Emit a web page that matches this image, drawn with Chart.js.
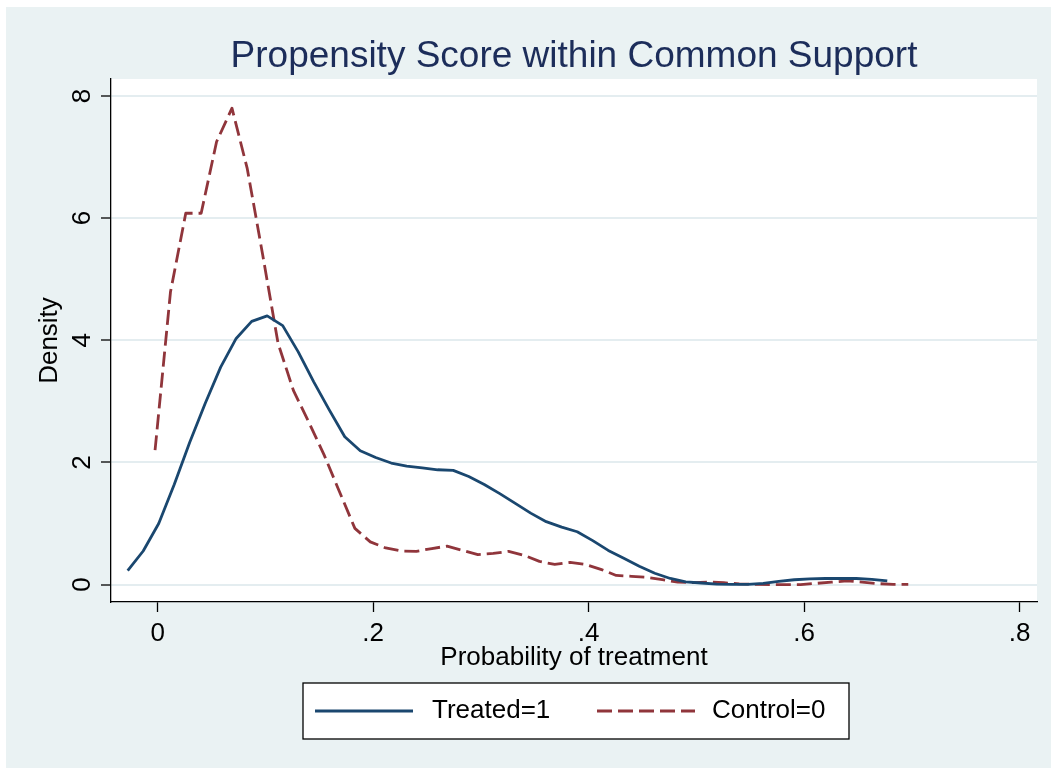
<!DOCTYPE html>
<html>
<head>
<meta charset="utf-8">
<title>Propensity Score within Common Support</title>
<script src="https://cdn.jsdelivr.net/npm/chart.js@4.4.1/dist/chart.umd.min.js"></script>
<style>
  html, body { margin: 0; padding: 0; background: #fff; }
  #wrap { width: 1051px; height: 768px; }
</style>
</head>
<body>
<div id="wrap"><canvas id="chart" width="1051" height="768"></canvas></div>
<script>
const FONT = "'Liberation Sans', Arial, sans-serif";
const NAVY = "#1a476f";
const MAROON = "#90353b";
const BG = "#eaf2f3";

// kernel density estimates, 50 points each
const treatedX = [
  -0.0279, -0.0135, 0.0009, 0.0153, 0.0297, 0.0441, 0.0584, 0.0728, 0.0872, 0.1016,
  0.1160, 0.1304, 0.1448, 0.1592, 0.1736, 0.1880, 0.2023, 0.2167, 0.2311, 0.2455,
  0.2599, 0.2743, 0.2887, 0.3031, 0.3175, 0.3319, 0.3462, 0.3606, 0.3750, 0.3894,
  0.4038, 0.4182, 0.4326, 0.4470, 0.4614, 0.4758, 0.4901, 0.5045, 0.5189, 0.5333,
  0.5477, 0.5621, 0.5765, 0.5909, 0.6053, 0.6197, 0.6340, 0.6484, 0.6628, 0.6772
];
const treatedY = [
  0.23, 0.55, 1.00, 1.64, 2.33, 2.97, 3.56, 4.03, 4.31, 4.40,
  4.24, 3.81, 3.32, 2.86, 2.42, 2.19, 2.08, 1.99, 1.94, 1.91,
  1.88, 1.87, 1.77, 1.64, 1.49, 1.33, 1.17, 1.03, 0.94, 0.865,
  0.72, 0.56, 0.43, 0.30, 0.185, 0.10, 0.046, 0.026, 0.008, 0.005,
  0.005, 0.02, 0.054, 0.079, 0.093, 0.10, 0.10, 0.10, 0.087, 0.06
];
const controlX = [
  -0.0025, 0.0118, 0.0260, 0.0403, 0.0546, 0.0689, 0.0831, 0.0974, 0.1117, 0.1259,
  0.1402, 0.1545, 0.1687, 0.1830, 0.1973, 0.2116, 0.2258, 0.2401, 0.2544, 0.2686,
  0.2829, 0.2972, 0.3114, 0.3257, 0.3400, 0.3543, 0.3685, 0.3828, 0.3971, 0.4113,
  0.4256, 0.4399, 0.4541, 0.4684, 0.4827, 0.4970, 0.5112, 0.5255, 0.5398, 0.5540,
  0.5683, 0.5826, 0.5968, 0.6111, 0.6254, 0.6397, 0.6539, 0.6682, 0.6825, 0.6967
];
const controlY = [
  2.20, 4.79, 6.08, 6.08, 7.25, 7.80, 6.81, 5.40, 3.95, 3.18,
  2.66, 2.12, 1.52, 0.92, 0.70, 0.60, 0.55, 0.545, 0.59, 0.63,
  0.56, 0.49, 0.51, 0.545, 0.48, 0.38, 0.33, 0.365, 0.33, 0.25,
  0.15, 0.135, 0.12, 0.08, 0.04, 0.033, 0.043, 0.03, 0.013, 0.005,
  0.0, 0.0, 0.0, 0.02, 0.04, 0.06, 0.04, 0.016, 0.005, 0.005
];

const xTickValues = [0, 0.2, 0.4, 0.6, 0.8];
const xTickLabels = ["0", ".2", ".4", ".6", ".8"];
const yTickValues = [0, 2, 4, 6, 8];
const yTickLabels = ["0", "2", "4", "6", "8"];
const seriesLabels = ["Treated=1", "Control=0"];

const toPoints = (xs, ys) => xs.map((x, i) => ({ x, y: ys[i] }));

// graph region + white plot region
const backdrop = {
  id: "backdrop",
  beforeDraw(chart) {
    const { ctx, width, height, chartArea } = chart;
    ctx.save();
    ctx.fillStyle = "#fff";
    ctx.fillRect(0, 0, width, height);
    ctx.fillStyle = BG;
    ctx.fillRect(6, 7, width - 6, height - 7);
    ctx.fillStyle = "#fff";
    ctx.fillRect(chartArea.left, chartArea.top, chartArea.right - chartArea.left, chartArea.bottom - chartArea.top);
    ctx.restore();
  },
};

// rotated y labels and the boxed legend, Stata style
const extras = {
  id: "extras",
  afterDraw(chart) {
    const { ctx, chartArea } = chart;
    const yScale = chart.scales.y;
    ctx.save();
    ctx.font = `26px ${FONT}`;
    ctx.fillStyle = "#000";
    yTickValues.forEach((v, i) => {
      const py = yScale.getPixelForValue(v);
      ctx.save();
      ctx.translate(chartArea.left - 21, py);
      ctx.rotate(-Math.PI / 2);
      ctx.textAlign = "center";
      ctx.textBaseline = "alphabetic";
      ctx.fillText(yTickLabels[i], 0, 0);
      ctx.restore();
    });

    const cx = (chartArea.left + chartArea.right) / 2;
    const top = chartArea.bottom + 81;
    const midY = top + 28;
    ctx.fillStyle = "#fff";
    ctx.fillRect(cx - 271, top, 546, 56);
    ctx.strokeStyle = "#000";
    ctx.lineWidth = 1.3;
    ctx.strokeRect(cx - 271, top, 546, 56);

    const items = [
      { x0: cx - 259, x1: cx - 161, tx: cx - 142 },
      { x0: cx + 23, x1: cx + 121, tx: cx + 138 },
    ];
    items.forEach((it, i) => {
      const ds = chart.data.datasets[i];
      ctx.beginPath();
      ctx.strokeStyle = ds.borderColor;
      ctx.lineWidth = ds.borderWidth;
      ctx.setLineDash(ds.borderDash || []);
      ctx.moveTo(it.x0, midY);
      ctx.lineTo(it.x1, midY);
      ctx.stroke();
      ctx.setLineDash([]);
      ctx.fillStyle = "#000";
      ctx.textAlign = "left";
      ctx.textBaseline = "middle";
      ctx.fillText(seriesLabels[i], it.tx, midY);
    });
    ctx.restore();
  },
};

const ctx = document.getElementById("chart").getContext("2d");
new Chart(ctx, {
  type: "line",
  data: {
    datasets: [
      {
        label: seriesLabels[0],
        data: toPoints(treatedX, treatedY),
        borderColor: NAVY,
        borderWidth: 2.8,
        borderJoinStyle: "round",
        pointRadius: 0,
        tension: 0,
        fill: false,
      },
      {
        label: seriesLabels[1],
        data: toPoints(controlX, controlY),
        borderColor: MAROON,
        borderWidth: 2.8,
        borderDash: [15, 6],
        borderJoinStyle: "round",
        pointRadius: 0,
        tension: 0,
        fill: false,
      },
    ],
  },
  options: {
    responsive: false,
    animation: false,
    devicePixelRatio: 1,
    layout: { padding: { left: 0, right: 14, top: 0, bottom: 94.4 } },
    plugins: {
      legend: { display: false },
      tooltip: { enabled: false },
      title: {
        display: true,
        fullSize: false,
        text: "Propensity Score within Common Support",
        color: "#1c2d5a",
        font: { family: FONT, size: 37, weight: "normal", lineHeight: 1.1 },
        padding: { top: 36, bottom: 2.3 },
      },
    },
    scales: {
      x: {
        type: "linear",
        min: -0.0434,
        max: 0.8162,
        afterBuildTicks: (s) => { s.ticks = xTickValues.map((v) => ({ value: v })); },
        afterFit: (s) => { s.height = 71.6; },
        ticks: {
          autoSkip: false,
          maxRotation: 0,
          padding: 6.4,
          color: "#000",
          font: { family: FONT, size: 26 },
          callback: (v, i) => xTickLabels[i],
        },
        grid: { drawOnChartArea: false, drawTicks: true, tickLength: 10, tickColor: "#000", tickWidth: 1.3 },
        border: { color: "#000", width: 1.3 },
        title: {
          display: true,
          text: "Probability of treatment",
          color: "#000",
          font: { family: FONT, size: 26 },
          padding: { top: 0, bottom: 0 },
        },
      },
      y: {
        type: "linear",
        min: -0.285,
        max: 8.278,
        afterBuildTicks: (s) => { s.ticks = yTickValues.map((v) => ({ value: v })); },
        afterFit: (s) => { s.width = 111; },
        ticks: { display: false },
        grid: { color: "#e4edf0", lineWidth: 2, drawTicks: true, tickLength: 10, tickColor: "#000", tickWidth: 1.3 },
        border: { color: "#000", width: 1.3 },
        title: {
          display: true,
          text: "Density",
          color: "#000",
          font: { family: FONT, size: 26 },
          padding: { top: 34, bottom: 0 },
        },
      },
    },
  },
  plugins: [backdrop, extras],
});
</script>
</body>
</html>
